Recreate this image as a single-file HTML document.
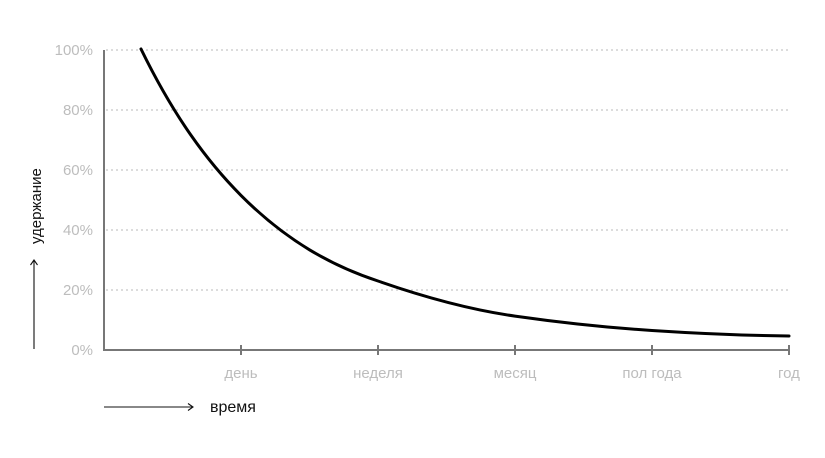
<!DOCTYPE html>
<html><head><meta charset="utf-8"><style>
html,body{margin:0;padding:0;background:#fff;}
svg{display:block;font-family:"Liberation Sans",sans-serif;}
</style></head><body>
<svg width="825" height="458" viewBox="0 0 825 458" xmlns="http://www.w3.org/2000/svg">
<g stroke="#c8c8c8" stroke-width="1.2" stroke-dasharray="2,3">
<line x1="106" y1="50" x2="789" y2="50"/>
<line x1="106" y1="110" x2="789" y2="110"/>
<line x1="106" y1="170" x2="789" y2="170"/>
<line x1="106" y1="230" x2="789" y2="230"/>
<line x1="106" y1="290" x2="789" y2="290"/>
</g>
<g fill="#bdbdbd" font-size="15" text-anchor="end">
<text x="93" y="55">100%</text>
<text x="93" y="115">80%</text>
<text x="93" y="175">60%</text>
<text x="93" y="235">40%</text>
<text x="93" y="295">20%</text>
<text x="93" y="355">0%</text>
</g>
<g stroke="#777" stroke-width="2" fill="none">
<polyline points="104,50 104,350 789,350"/>
<line x1="241" y1="345" x2="241" y2="355"/>
<line x1="378" y1="345" x2="378" y2="355"/>
<line x1="515" y1="345" x2="515" y2="355"/>
<line x1="652" y1="345" x2="652" y2="355"/>
<line x1="789" y1="345" x2="789" y2="355"/>
</g>
<g fill="#bdbdbd" font-size="15" text-anchor="middle">
<text x="241" y="378">день</text>
<text x="378" y="378">неделя</text>
<text x="515" y="378">месяц</text>
<text x="652" y="378">пол года</text>
<text x="789" y="378">год</text>
</g>
<path fill="none" stroke="#000" stroke-width="3" stroke-linecap="round"
d="M141,49 C174.3,117.3 207.7,162 241,195.4 C286.7,241.3 332.3,266 378,281 C423.7,297 469.3,309.6 515,316.1 C560.7,322.6 606.3,327.5 652,330.5 C697.7,333.5 743.3,335.5 789,336"/>
<g stroke="#111" stroke-width="1.1" fill="none">
<line x1="104" y1="407" x2="193" y2="407"/>
<polyline points="188,403.5 193,407 188,410.5"/>
<line x1="34" y1="349" x2="34" y2="260"/>
<polyline points="30.5,265 34,260 37.5,265"/>
</g>
<text x="210" y="412" font-size="16" fill="#111">время</text>
<text transform="translate(41,244) rotate(-90)" font-size="15" fill="#111">удержание</text>
</svg>
</body></html>
